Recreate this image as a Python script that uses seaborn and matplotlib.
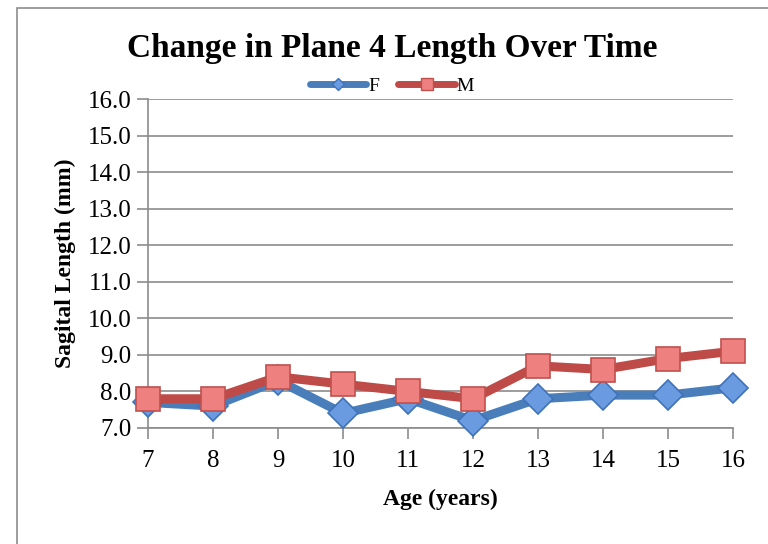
import matplotlib
matplotlib.use("Agg")
import matplotlib.pyplot as plt
import seaborn as sns
import pandas as pd
from matplotlib.patches import Rectangle
from matplotlib.lines import Line2D

ages = [7, 8, 9, 10, 11, 12, 13, 14, 15, 16]
f_vals = [7.7, 7.6, 8.3, 7.4, 7.8, 7.2, 7.8, 7.9, 7.9, 8.1]
m_vals = [7.8, 7.8, 8.4, 8.2, 8.0, 7.8, 8.7, 8.6, 8.9, 9.1]
y_ticks = [7.0, 8.0, 9.0, 10.0, 11.0, 12.0, 13.0, 14.0, 15.0, 16.0]

df = pd.DataFrame({
    "Age": ages * 2,
    "Length": f_vals + m_vals,
    "Sex": ["F"] * len(ages) + ["M"] * len(ages),
})

sns.set_style("white")
plt.rcParams["font.family"] = ["Liberation Serif", "DejaVu Serif"]
plt.rcParams["text.color"] = "black"
plt.rcParams["axes.labelcolor"] = "black"
plt.rcParams["xtick.color"] = "black"
plt.rcParams["ytick.color"] = "black"

fig = plt.figure(figsize=(7.68, 5.44), dpi=100)
ax = fig.add_axes([148 / 768, 1 - 428 / 544, (733 - 148) / 768, (428 - 99) / 544])

line_cols = {"F": "#4A7EBB", "M": "#BE4B48"}
face_cols = {"F": "#6A9BE0", "M": "#EE8080"}
edge_cols = {"F": "#3F72B8", "M": "#C0504D"}
markers = {"F": "D", "M": "s"}
msize = {"F": 15, "M": 17}

for sex in ["F", "M"]:
    sub = df[df["Sex"] == sex]
    sns.lineplot(data=sub, x="Age", y="Length", ax=ax, color=line_cols[sex],
                 linewidth=6.5, marker=markers[sex], markersize=msize[sex],
                 markerfacecolor=face_cols[sex], markeredgecolor=edge_cols[sex],
                 markeredgewidth=1.2, legend=False, clip_on=False, zorder=3)

ax.set_xlim(7, 16)
ax.set_ylim(7, 16)
ax.set_xticks(ages)
ax.set_yticks(y_ticks)
ax.set_yticklabels([f"{v:.1f}" for v in y_ticks])
ax.grid(axis="y", color="#8c8c8c", linewidth=1.2)
ax.grid(axis="x", visible=False)
for s in ["top", "right"]:
    ax.spines[s].set_visible(False)
for s in ["left", "bottom"]:
    ax.spines[s].set_color("#8c8c8c")
    ax.spines[s].set_linewidth(1.2)
ax.tick_params(axis="both", which="both", direction="out", length=8, width=1.2,
               color="#8c8c8c", labelcolor="black", labelsize=18, pad=6)
ax.tick_params(axis="x", pad=8)
ax.tick_params(axis="y", left=True, pad=4)
ax.tick_params(axis="x", bottom=True)

ax.set_xlabel("Age (years)", fontsize=17, fontweight="bold", labelpad=12)
ax.set_ylabel("Sagital Length (mm)", fontsize=17, fontweight="bold", labelpad=8)

fig.text(392 / 768, 1 - 48 / 544, "Change in Plane 4 Length Over Time",
         ha="center", va="center", fontsize=24, fontweight="bold")

handles = [
    Line2D([0], [0], color=line_cols["F"], linewidth=5, marker="D", markersize=6,
           markerfacecolor=face_cols["F"], markeredgecolor=edge_cols["F"]),
    Line2D([0], [0], color=line_cols["M"], linewidth=5, marker="s", markersize=8,
           markerfacecolor=face_cols["M"], markeredgecolor=edge_cols["M"]),
]
fig.legend(handles, ["F", "M"], loc="center", bbox_to_anchor=(392 / 768, 1 - 86 / 544),
           ncol=2, frameon=False, fontsize=14, handlelength=2.9, handletextpad=0.1,
           columnspacing=1.0, borderpad=0)

fig.patches.append(Rectangle((17 / 768, -0.01), 1.0, 1 - 8 / 544 + 0.01,
                             transform=fig.transFigure, fill=False,
                             edgecolor="#8c8c8c", linewidth=1.2))

fig.savefig("out.png", dpi=100)
